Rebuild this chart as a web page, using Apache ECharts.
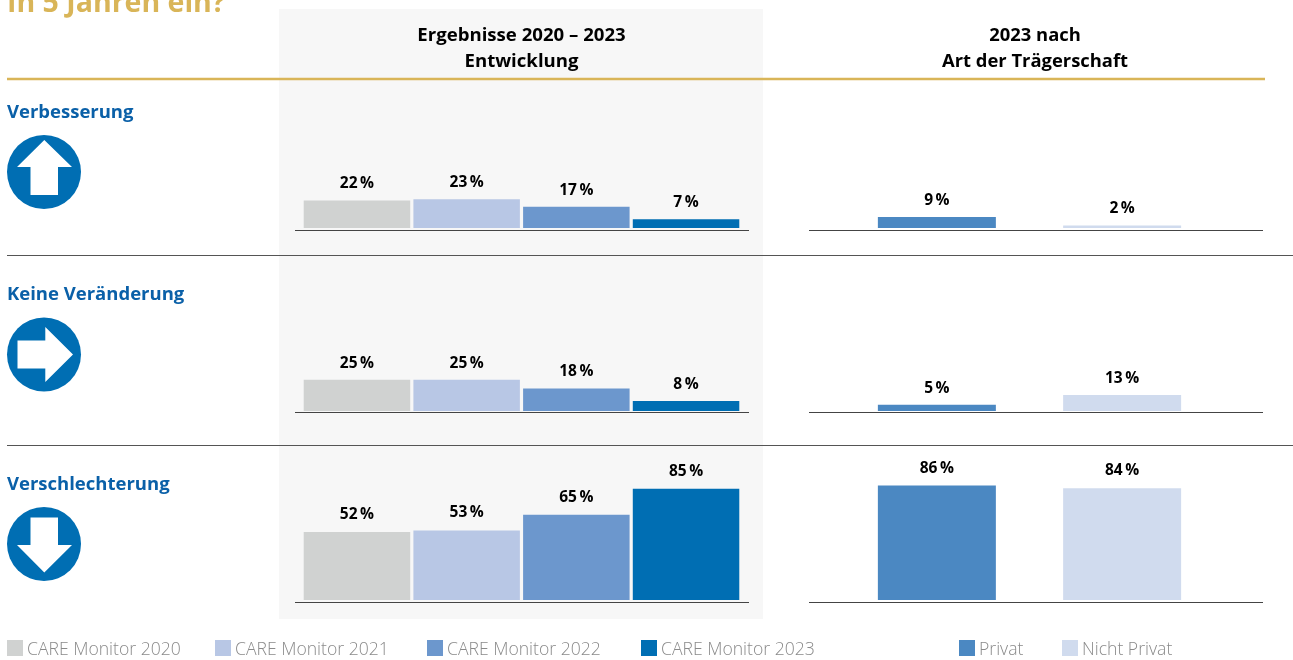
<!DOCTYPE html>
<html lang="de">
<head>
<meta charset="utf-8">
<title>CARE Monitor</title>
<style>html,body{margin:0;padding:0;background:#fff}#chart{width:1293px;height:660px}</style>
<script src="https://cdn.jsdelivr.net/npm/echarts@6/dist/echarts.min.js"></script>
</head>
<body>
<div id="chart"></div>
<script>
// Einschätzung der Entwicklung, Anteile in Prozent je Antwortzeile
const titleText = 'In 5 Jahren ein?';
const rows = ['Verbesserung', 'Keine Veränderung', 'Verschlechterung'];
const headLeft = 'Ergebnisse 2020 – 2023\nEntwicklung';
const headRight = '2023 nach\nArt der Trägerschaft';

const yearNames = ['CARE Monitor 2020', 'CARE Monitor 2021', 'CARE Monitor 2022', 'CARE Monitor 2023'];
const care2020 = [22, 25, 52];
const care2021 = [23, 25, 53];
const care2022 = [17, 18, 65];
const care2023 = [7, 8, 85];
const yearColors = ['#d0d2d1', '#b8c7e5', '#6c97cd', '#006eb3'];

const typeNames = ['Privat', 'Nicht Privat'];
const privat = [9, 5, 86];
const nichtPrivat = [2, 13, 84];
const typeColors = ['#4b88c2', '#d0dbee'];

// Seitenraster
const barBottoms = [228, 411, 600];
const baselines = [230.5, 412.5, 602.5];
const labelDistance = [8.5, 8.5, 9.5];
const panelLeft = { left: 295, width: 453, barWidth: 106.5, barGap: '3%', heights: [125, 125, 131] };
const panelRight = { left: 809, width: 441, barWidth: 118, barGap: '57%', heights: [123, 123, 133] };
const iconCenters = [172, 354.5, 544];
const rowLabelY = [113, 295, 485];
const legendLefts = [7, 215, 427, 641, 959, 1062];

const fontFamily = '"Open Sans", "Noto Sans", sans-serif';
const blue = '#006eb3';
const gold = '#d9b558';

const grids = [], xAxes = [], yAxes = [], series = [];

function addPanel(panel, names, valueLists, colors) {
  rows.forEach((row, r) => {
    const idx = grids.length;
    const height = panel.heights[r];
    grids.push({ left: panel.left, width: panel.width, top: barBottoms[r] - height, height });
    xAxes.push({ type: 'category', gridIndex: idx, data: [row], show: false });
    yAxes.push({ type: 'value', gridIndex: idx, min: 0, max: 100, show: false });
    names.forEach((name, s) => {
      series.push({
        type: 'bar', name, xAxisIndex: idx, yAxisIndex: idx,
        data: [valueLists[s][r]],
        barWidth: panel.barWidth, barGap: panel.barGap,
        itemStyle: { color: colors[s] },
        label: {
          show: true, position: 'top', distance: labelDistance[r],
          formatter: '{c}\u2009%',
          color: '#000', fontFamily, fontWeight: 700, fontSize: 15.5
        }
      });
    });
  });
}
addPanel(panelLeft, yearNames, [care2020, care2021, care2022, care2023], yearColors);
addPanel(panelRight, typeNames, [privat, nichtPrivat], typeColors);

const rule = (x1, x2, y, stroke, lineWidth) => ({
  type: 'line', shape: { x1, y1: y, x2, y2: y }, style: { stroke, lineWidth }
});
const label = (text, x, y, font, fill, align) => ({
  type: 'text', x, y,
  style: { text, font, fill, align: align || 'left', verticalAlign: 'middle', lineHeight: 26 }
});
const arrows = [
  c => [[44.3, c - 32], [72, c - 5], [58, c - 5], [58, c + 23], [30.5, c + 23], [30.5, c - 5], [17, c - 5]],
  c => [[73, c], [45.3, c + 27.5], [45.3, c + 14], [17.5, c + 14], [17.5, c - 14], [45.3, c - 14], [45.3, c - 27.5]],
  c => [[44.3, c + 28.5], [72, c + 1], [58, c + 1], [58, c - 26.5], [30.5, c - 26.5], [30.5, c + 1], [17, c + 1]]
];

const graphics = [
  { type: 'rect', shape: { x: 279, y: 9, width: 484, height: 610 }, style: { fill: '#f7f7f7' } },
  label(titleText, 7, 4, `700 28.5px ${fontFamily}`, gold),
  label(headLeft, 521.5, 49, `700 18.6px ${fontFamily}`, '#000', 'center'),
  label(headRight, 1035, 49, `700 18.4px ${fontFamily}`, '#000', 'center'),
  rule(7, 1265, 79, gold, 2.5),
  rule(7, 1293, 255.5, '#555', 1.2),
  rule(7, 1293, 445.5, '#555', 1.2)
];
rows.forEach((row, r) => {
  graphics.push(label(row, 7, rowLabelY[r], `700 18.5px ${fontFamily}`, '#0a60a8'));
  graphics.push({ type: 'circle', shape: { cx: 44, cy: iconCenters[r], r: 37 }, style: { fill: blue } });
  graphics.push({ type: 'polygon', shape: { points: arrows[r](iconCenters[r]) }, style: { fill: '#fff' } });
  graphics.push(rule(295, 749, baselines[r], '#444', 1.2));
  graphics.push(rule(809, 1263, baselines[r], '#444', 1.2));
});

// Jeder Legendeneintrag steht an einer eigenen Position
const legends = yearNames.concat(typeNames).map((name, i) => ({
  left: legendLefts[i], top: 640, padding: 0,
  itemWidth: 16, itemHeight: 16, icon: 'rect', selectedMode: false,
  data: [name],
  formatter: '{t|{name}}',
  textStyle: {
    rich: { t: { color: '#8a8a8a', fontFamily, fontWeight: 300, fontSize: 17.6, padding: [4, 0, 0, -1] } }
  }
}));

echarts.init(document.getElementById('chart'), null, { renderer: 'canvas' }).setOption({
  animation: false,
  backgroundColor: '#fff',
  grid: grids,
  xAxis: xAxes,
  yAxis: yAxes,
  series,
  legend: legends,
  graphic: { elements: graphics }
});
</script>
</body>
</html>
